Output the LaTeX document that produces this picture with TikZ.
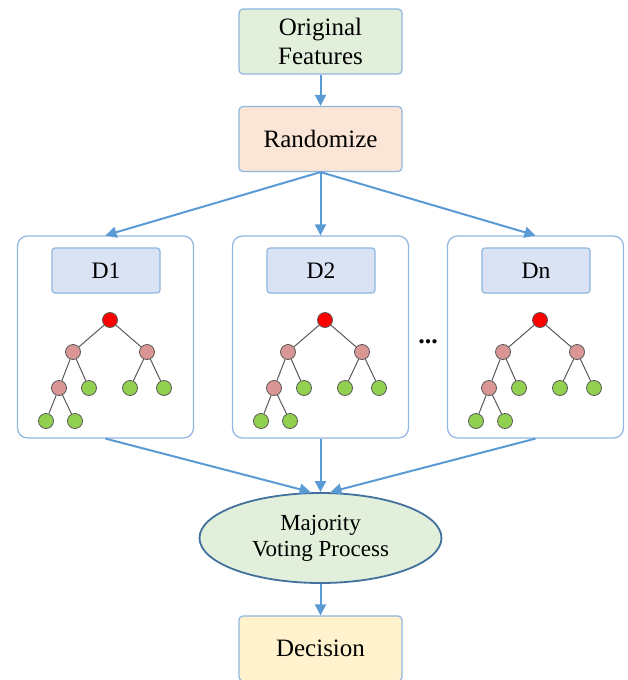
\documentclass[tikz,border=0pt]{standalone}
\usepackage{fontspec}
\setmainfont{Liberation Serif}
\usetikzlibrary{shapes.geometric,arrows.meta}
\definecolor{boxline}{HTML}{8FB7E0}
\definecolor{arrowblue}{HTML}{5B9BD5}
\definecolor{ovalline}{HTML}{41719C}
\definecolor{featfill}{HTML}{E2EFDA}
\definecolor{randfill}{HTML}{FBE5D6}
\definecolor{dfill}{HTML}{DAE3F3}
\definecolor{decfill}{HTML}{FFF2CC}
\definecolor{innerfill}{HTML}{D99694}
\definecolor{leaffill}{HTML}{92D050}
\definecolor{treeline}{HTML}{595959}
\begin{document}
\begin{tikzpicture}[x=0.5pt,y=-0.5pt,
    box/.style={draw=boxline,rounded corners=2pt,minimum width=81.5pt,minimum height=32.5pt,align=center,font=\fontsize{12.5}{14.5}\selectfont,line width=0.6pt},
    panel/.style={draw=boxline,rounded corners=5pt,minimum width=88pt,minimum height=101pt,line width=0.6pt},
    dlabel/.style={draw=boxline,fill=dfill,rounded corners=1.5pt,minimum width=54pt,minimum height=22.5pt,font=\fontsize{11.8}{13}\selectfont,line width=0.6pt},
    knot/.style={circle,draw=treeline,inner sep=0pt,minimum size=7.5pt,line width=0.4pt},
    link/.style={->,draw=arrowblue,line width=1pt},
    >={Triangle[length=5.5pt,width=5.5pt]}]
    \useasboundingbox (0,0) rectangle (627,680);
    \node[box,fill=featfill] (feat) at (320.5,41.5) {Original\\Features};
    \node[box,fill=randfill] (rand) at (320.5,139) {Randomize};
    \draw[link] (feat) -- (rand);
    % the three decision trees
    \foreach \d/\dx in {1/0,2/215,n/430} {
        \node[panel] (p\d) at (105.5+\dx,337) {};
        \node[dlabel] (l\d) at (106+\dx,270.5) {D\d};
        \node[knot,fill=red] (r\d) at (110+\dx,320) {};
        \node[knot,fill=innerfill] (a\d) at (73+\dx,352) {};
        \node[knot,fill=innerfill] (b\d) at (147+\dx,352) {};
        \node[knot,fill=innerfill] (aa\d) at (59+\dx,388) {};
        \node[knot,fill=leaffill] (ab\d) at (89+\dx,388) {};
        \node[knot,fill=leaffill] (ba\d) at (130+\dx,388) {};
        \node[knot,fill=leaffill] (bb\d) at (164+\dx,388) {};
        \node[knot,fill=leaffill] (aaa\d) at (46+\dx,421) {};
        \node[knot,fill=leaffill] (aab\d) at (75+\dx,421) {};
        \draw[treeline,line width=0.5pt] (r\d) -- (a\d) (r\d) -- (b\d) (a\d) -- (aa\d) (a\d) -- (ab\d)
            (b\d) -- (ba\d) (b\d) -- (bb\d) (aa\d) -- (aaa\d) (aa\d) -- (aab\d);
        \draw[link] (rand.south) -- (p\d.north);
    }
    \node (dots) at (428,342) {\fontsize{13}{13}\selectfont\textbf{...}};
    \node[ellipse,draw=ovalline,fill=featfill,line width=0.9pt,minimum width=121pt,minimum height=45pt,inner sep=0pt,align=center,font=\fontsize{11.5}{13}\selectfont] (vote) at (320.5,538) {Majority\\Voting Process};
    \coordinate (inl) at (310.5,492);
    \coordinate (inr) at (330.5,492);
    \draw[link] (p1.south) -- (inl);
    \draw[link] (p2.south) -- (vote.north);
    \draw[link] (pn.south) -- (inr);
    \node[box,fill=decfill] (dec) at (320.5,648.5) {Decision};
    \draw[link] (vote) -- (dec);
\end{tikzpicture}
\end{document}
